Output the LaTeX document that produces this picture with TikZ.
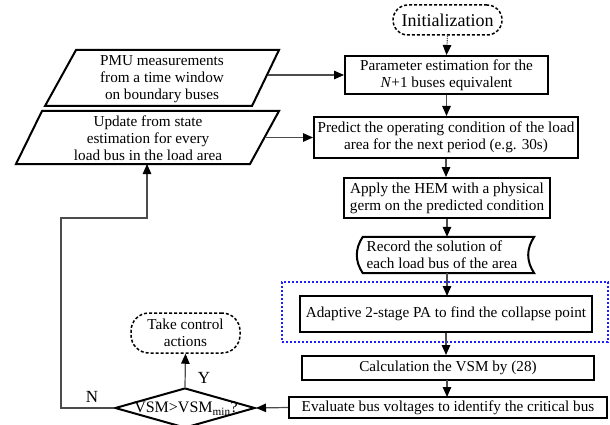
\documentclass[tikz,border=0pt]{standalone}
\usepackage{fontspec}
\setmainfont{Liberation Serif}
\usetikzlibrary{shapes.geometric,arrows.meta}
\definecolor{connc}{gray}{0.3}
\definecolor{grpblue}{RGB}{30,30,255}
\begin{document}
\begin{tikzpicture}[x=1pt,y=-1pt,
  txt/.style={font=\fontsize{15.2}{17}\selectfont, align=center, inner sep=0pt},
  procbox/.style={draw=black, line width=2pt, rectangle, inner sep=0pt, txt},
  termbox/.style={draw=black, line width=1.5pt, dash pattern=on 3pt off 2pt, rounded corners=15pt, inner sep=0pt, txt},
  shapeline/.style={draw=black, line width=2pt},
  conn/.style={draw=connc, line width=1.2pt},
  arr/.style={conn, -{Triangle[length=10pt,width=8.5pt,color=black]}},
  lbl/.style={font=\fontsize{17}{19}\selectfont, inner sep=0pt}
 ]
\useasboundingbox (0,0) rectangle (610,425);

% terminals
\node[termbox, font=\fontsize{18}{20}\selectfont, minimum width=109pt, minimum height=30pt] (init) at (447.5,20) {Initialization};
\node[termbox, rounded corners=18pt, minimum width=109pt, minimum height=40pt] (ctrl) at (185.5,333) {Take control\\actions};

% process boxes
\node[procbox, minimum width=203pt, minimum height=38pt] (param) at (446.5,75) {Parameter estimation for the\\\textit{N}+1 buses equivalent};
\node[procbox, minimum width=264pt, minimum height=41pt] (pred) at (446,137.5) {Predict the operating condition of the load\\area for the next period (e.g. 30s)};
\node[procbox, minimum width=206pt, minimum height=40pt] (apply) at (447,198) {Apply the HEM with a physical\\germ on the predicted condition};
\node[draw=grpblue, line width=1.6pt, dash pattern=on 2.2pt off 1.8pt, minimum width=326pt, minimum height=60pt, inner sep=0pt] (grp) at (445,312) {};
\node[procbox, minimum width=292pt, minimum height=36pt] (adapt) at (446,314) {Adaptive 2-stage PA to find the collapse point};
\node[procbox, minimum width=292pt, minimum height=24pt] (calc) at (448,368) {Calculation the VSM by (28)};
\node[procbox, minimum width=318pt, minimum height=21pt] (eval) at (448,407.5) {Evaluate bus voltages to identify the critical bus};

% stored data shape
\node[minimum width=171pt, minimum height=36pt, inner sep=0pt] (rec) at (448.5,255) {};
\draw[shapeline] (rec.north west) -- (rec.north east)
  .. controls ([xshift=-8pt,yshift=-12pt]rec.north east) and ([xshift=-8pt,yshift=12pt]rec.south east) .. (rec.south east)
  -- (rec.south west)
  .. controls ([xshift=-8pt,yshift=12pt]rec.south west) and ([xshift=-8pt,yshift=-12pt]rec.north west) .. (rec.north west) -- cycle;
\node[txt, align=left] (rectxt) at (442,255) {Record the solution of\\each load bus of the area};

% data parallelograms
\node[minimum width=234pt, minimum height=56pt, inner sep=0pt] (pmu) at (162,78) {};
\draw[shapeline] (76,50) -- (279,50) -- (252,106) -- (45,106) -- cycle;
\node[txt] (pmutxt) at (162,79) {PMU measurements\\from a time window\\on boundary buses};
\coordinate (pmuR) at (267.5,75);

\node[minimum width=263pt, minimum height=53pt, inner sep=0pt] (upd) at (147.5,137.5) {};
\draw[shapeline] (42,111) -- (279,111) -- (250,164) -- (16,164) -- cycle;
\node[txt] (updtxt) at (148,138) {Update from state\\estimation for every\\load bus in the load area};
\coordinate (updR) at (264.5,137.5);
\coordinate (updB) at (147,164);

% decision
\node[diamond, draw=black, line width=2pt, minimum width=140pt, minimum height=40pt, inner sep=0pt] (dec) at (185,408) {};
\node[font=\fontsize{16}{18}\selectfont, inner sep=0pt] (dectxt) at (186,408.5) {VSM>VSM\textsubscript{min}?};

% connectors
\draw[conn, densely dotted, -{Triangle[length=10pt,width=8.5pt,color=black]}] (init.south) -- (param.north);
\draw[arr] (pmuR) -- (param.west);
\draw[arr] (updR) -- (pred.west);
\draw[arr] (param.south) -- (param.south |- pred.north);
\draw[arr] (pred.south) -- (pred.south |- apply.north);
\draw[arr] (apply.south) -- (apply.south |- rec.north);
\draw[arr] (447,273) -- (447,296) coordinate (adaptT);
\draw[arr] (adapt.south) -- (adapt.south |- calc.north);
\draw[arr] (447,380) -- (447,397) coordinate (evalT);
\draw[arr] (eval.west) -- (dec.east);
\draw[arr] (dec.north) -- (ctrl.south);
\coordinate (loop1) at (61,408);
\coordinate (loop2) at (61,218);
\coordinate (loop3) at (147,218);
\draw[arr] (dec.west) -- (loop1) -- (loop2) -- (loop3) -- (updB);

\node[lbl] (ylab) at (204,378) {Y};
\node[lbl] (nlab) at (92,397) {N};
\end{tikzpicture}
\end{document}
